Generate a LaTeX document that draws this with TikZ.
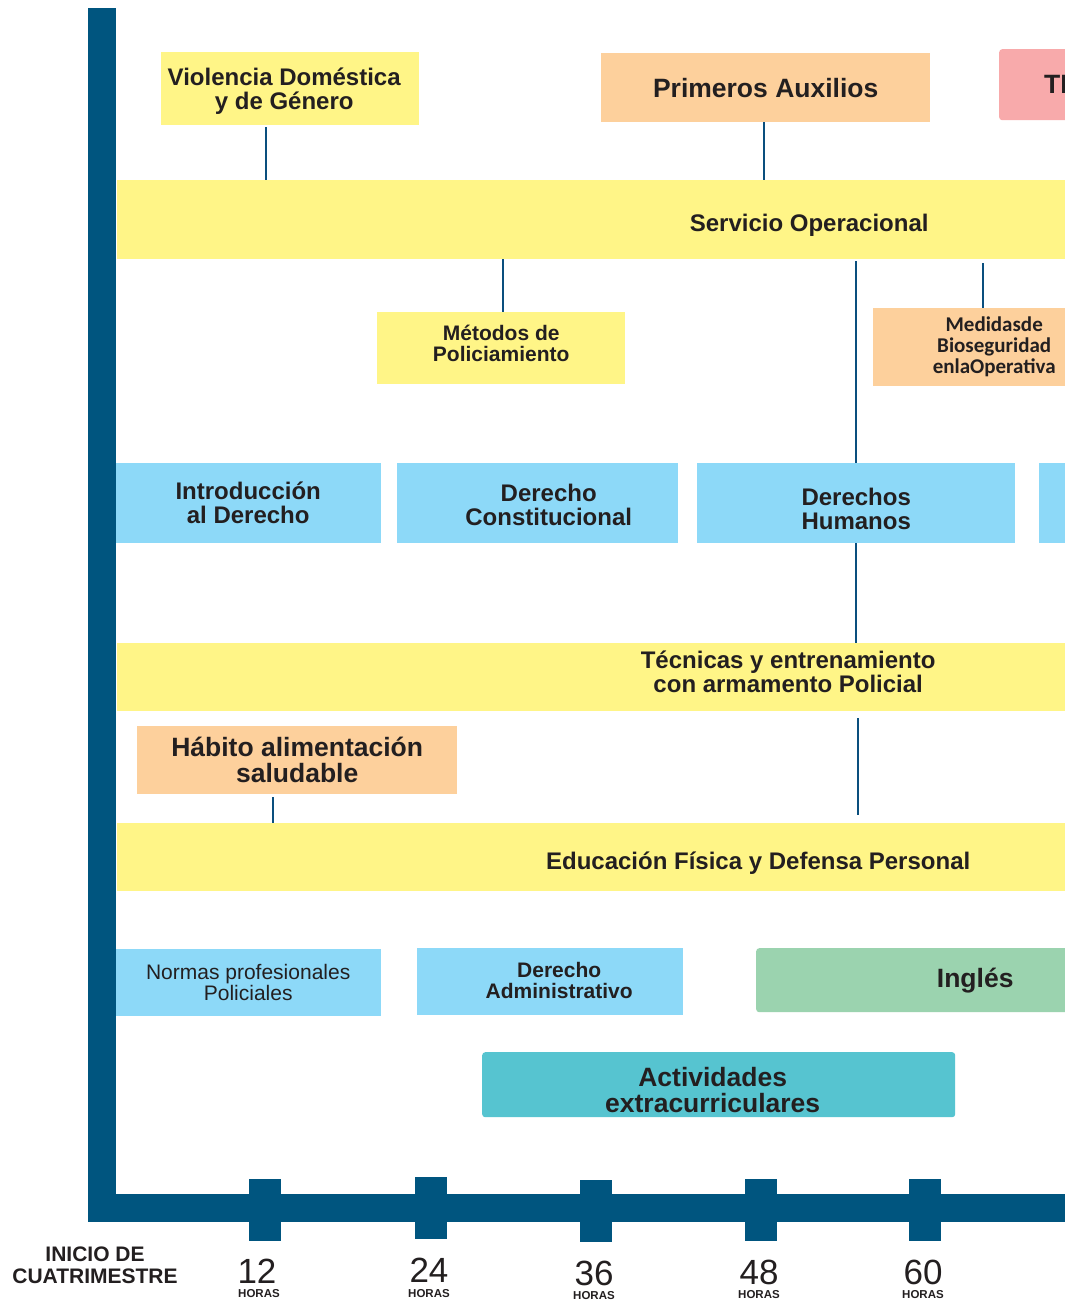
\documentclass[tikz,border=0pt]{standalone}
\usepackage{fontspec}
\setmainfont{Liberation Sans}
\newfontfamily\calfont{Carlito}
\definecolor{ylw}{HTML}{FFF587}
\definecolor{pch}{HTML}{FDD09C}
\definecolor{pnk}{HTML}{F8AAAB}
\definecolor{blu}{HTML}{8DD9F8}
\definecolor{grn}{HTML}{9BD3AF}
\definecolor{tea}{HTML}{56C4D0}
\definecolor{axc}{HTML}{00557F}
\definecolor{cnc}{HTML}{0A4F7E}
\definecolor{txc}{HTML}{231F20}
\tikzset{
  box/.style={anchor=north west, inner sep=0pt, align=center, text=txc},
  txt/.style={inner sep=0pt, align=center, text=txc},
  fa/.style={font=\fontsize{24}{24}\selectfont\bfseries},
  fb/.style={font=\fontsize{26.5}{26}\selectfont\bfseries},
  fc/.style={font=\fontsize{21}{21}\selectfont\bfseries},
  conn/.style={draw=cnc, line width=2pt},
  axfill/.style={fill=axc, draw=none},
  rnd/.style={rounded corners=3pt}
}
\begin{document}
\begin{tikzpicture}[x=1pt,y=-1pt]
\clip (0,0) rectangle (1065,1302);
\fill[white] (0,0) rectangle (1065,1302);
% top row
\node[box, fill=ylw, minimum width=258pt, minimum height=73pt] (viol) at (161,52) {};
\path (viol.center) ++(-6,2) node[txt, fa] (violT) {Violencia Doméstica\\y de Género};
\node[box, fb, fill=pch, minimum width=329pt, minimum height=69pt] (prim) at (601,53) {Primeros Auxilios};
\node[box, fb, rnd, fill=pnk, minimum height=71pt, text width=100pt, inner xsep=45pt, align=left] (ti) at (999,49) {TI};
% Servicio Operacional band
\node[box, fill=ylw, minimum width=1384pt, minimum height=79pt] (serv) at (117,180) {};
\path (serv.center) ++(0,6) node[txt, fa] (servT) {Servicio Operacional};
\node[box, fill=ylw, minimum width=248pt, minimum height=72pt] (meto) at (377,312) {};
\path (meto.center) ++(0,-5) node[txt, fc] (metoT) {Métodos de\\Policiamiento};
\node[box, fill=pch, minimum width=242pt, minimum height=78pt, font=\calfont\fontsize{21}{21}\selectfont\bfseries] (medi) at (873,308) {Medidasde\\Bioseguridad\\enlaOperativa};
% blue row
\node[box, fa, fill=blu, minimum width=266pt, minimum height=80pt] (intro) at (115,463) {Introducción\\al Derecho};
\node[box, fill=blu, minimum width=281pt, minimum height=80pt] (dcons) at (397,463) {};
\path (dcons.center) ++(11,2) node[txt, fa] (dconsT) {Derecho\\Constitucional};
\node[box, fill=blu, minimum width=318pt, minimum height=80pt] (dhum) at (697,463) {};
\path (dhum.center) ++(0,6) node[txt, fa] (dhumT) {Derechos\\Humanos};
\node[box, fill=blu, minimum width=200pt, minimum height=80pt] (bnext) at (1039,463) {};
% Tecnicas band
\node[box, fill=ylw, minimum width=1342pt, minimum height=68pt] (tecn) at (117,643) {};
\path (tecn.center) ++(0,-5) node[txt, fa] (tecnT) {Técnicas y entrenamiento\\con armamento Policial};
\node[box, fb, fill=pch, minimum width=320pt, minimum height=68pt] (habi) at (137,726) {Hábito alimentación\\saludable};
% Educacion band
\node[box, fill=ylw, minimum width=1282pt, minimum height=68pt] (educ) at (117,823) {};
\path (educ.center) ++(0,6) node[txt, fa] (educT) {Educación Física y Defensa Personal};
% bottom row
\node[box, fill=blu, minimum width=266pt, minimum height=67pt, font=\fontsize{21}{21}\selectfont] (norm) at (115,949) {Normas profesionales\\Policiales};
\node[box, fill=blu, minimum width=266pt, minimum height=67pt] (dadm) at (417,948) {};
\path (dadm.center) ++(9,-1) node[txt, fc] (dadmT) {Derecho\\Administrativo};
\node[box, fb, rnd, fill=grn, minimum width=438pt, minimum height=64pt] (ingl) at (756,948) {Inglés};
\node[box, rnd, fill=tea, minimum width=473pt, minimum height=65pt] (acti) at (482,1052) {};
\path (acti.center) ++(-6,5) node[txt, fb] (actiT) {Actividades\\extracurriculares};
% connectors
\draw[conn] (266,0 |- viol.south) ++(0,2) -- (266,0 |- serv.north);
\draw[conn] (764,0 |- prim.south) -- (764,0 |- serv.north);
\draw[conn] (503,0 |- serv.south) -- (503,0 |- meto.north);
\draw[conn] (983,0 |- serv.south) ++(0,4) -- (983,0 |- medi.north);
\draw[conn] (856,0 |- serv.south) ++(0,2) -- (856,0 |- dhum.north);
\draw[conn] (856,0 |- dhum.south) -- (856,0 |- tecn.north);
\draw[conn] (273,0 |- habi.south) ++(0,3) -- (273,0 |- educ.north);
\draw[conn] (858,0 |- tecn.south) ++(0,7) -- (858,815);
% axes
\fill[axfill] (88,8) rectangle (116,1222);
\fill[axfill] (88,1194) rectangle (1065,1222);
\fill[axfill] (249,1179) rectangle (281,1241);
\fill[axfill] (415,1177) rectangle (447,1239);
\fill[axfill] (580,1180) rectangle (612,1242);
\fill[axfill] (745,1179) rectangle (777,1241);
\fill[axfill] (909,1179) rectangle (941,1241);
% axis labels
\node[text=txc, align=center, inner sep=0pt, font=\fontsize{21}{22}\selectfont\bfseries] (inicio) at (95,1265) {INICIO DE\\CUATRIMESTRE};
\tikzset{num/.style={text=txc, inner sep=0pt, font=\fontsize{35}{35}\selectfont}, hrs/.style={text=txc, inner sep=0pt, font=\fontsize{11.5}{11.5}\selectfont\bfseries}}
\node[num] (n12) at (257,1271) {12};
\node[hrs] (h12) at (259,1294) {HORAS};
\node[num] (n24) at (429,1270) {24};
\node[hrs] (h24) at (429,1294) {HORAS};
\node[num] (n36) at (594,1273) {36};
\node[hrs] (h36) at (594,1296) {HORAS};
\node[num] (n48) at (759,1272) {48};
\node[hrs] (h48) at (759,1295) {HORAS};
\node[num] (n60) at (923,1272) {60};
\node[hrs] (h60) at (923,1295) {HORAS};
\end{tikzpicture}
\end{document}
